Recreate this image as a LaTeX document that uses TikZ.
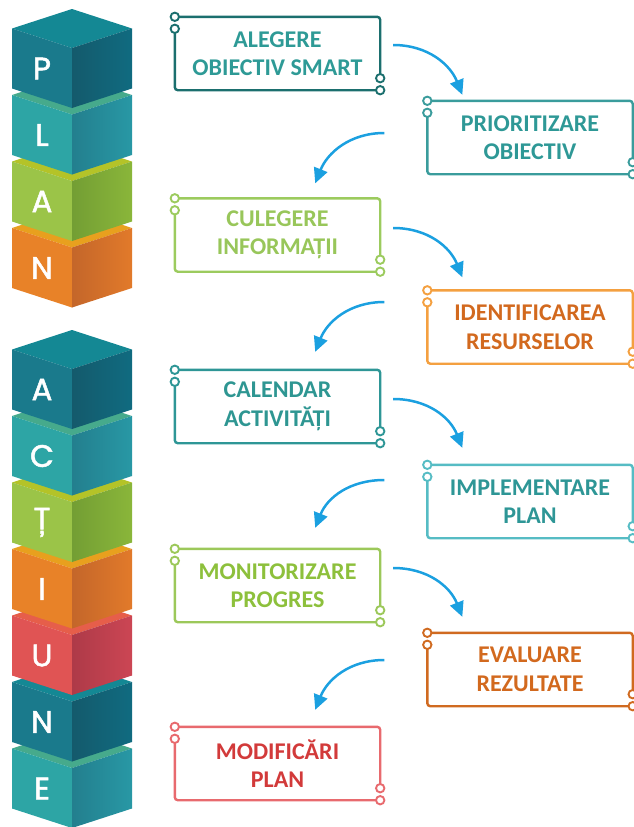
\documentclass[tikz,border=0pt]{standalone}
\usepackage{fontspec}
\setmainfont{Carlito}
\newfontfamily\cubefont{Poppins}[FakeBold=1.6]
\usetikzlibrary{arrows.meta}

% box colours (frame / text)
\definecolor{f1}{HTML}{1B6F6E}\definecolor{t1}{HTML}{2E9A96}
\definecolor{f2}{HTML}{3A9C9C}\definecolor{t2}{HTML}{2E9896}
\definecolor{f3}{HTML}{9CCB5E}\definecolor{t3}{HTML}{98C65A}
\definecolor{f4}{HTML}{F4A040}\definecolor{t4}{HTML}{D2691E}
\definecolor{f5}{HTML}{2E9696}\definecolor{t5}{HTML}{2E9692}
\definecolor{f6}{HTML}{56BCC4}\definecolor{t6}{HTML}{2E9696}
\definecolor{f7}{HTML}{9CC85A}\definecolor{t7}{HTML}{8DC03C}
\definecolor{f8}{HTML}{D06A20}\definecolor{t8}{HTML}{D2691E}
\definecolor{f9}{HTML}{E86A6E}\definecolor{t9}{HTML}{D23A3A}
\definecolor{arrowblue}{HTML}{1BA0E0}

% cube colours (left / right / shade / top)
\definecolor{dkL}{HTML}{1A7A8C}\definecolor{dkR}{HTML}{106B80}\definecolor{dkS}{HTML}{145A6C}\definecolor{dkT}{HTML}{148894}
\definecolor{tlL}{HTML}{2DA5A5}\definecolor{tlR}{HTML}{2898A5}\definecolor{tlS}{HTML}{237F8E}\definecolor{tlT}{HTML}{46AA8C}
\definecolor{grL}{HTML}{9BC448}\definecolor{grR}{HTML}{8AB63A}\definecolor{grS}{HTML}{739E34}\definecolor{grT}{HTML}{B4C328}
\definecolor{orL}{HTML}{E88228}\definecolor{orR}{HTML}{E27A2A}\definecolor{orS}{HTML}{C4662A}\definecolor{orT}{HTML}{E8A01E}
\definecolor{rdL}{HTML}{E05454}\definecolor{rdR}{HTML}{CC4654}\definecolor{rdS}{HTML}{AE3A48}\definecolor{rdT}{HTML}{E65E4A}

\tikzset{
  stepbox/.style={minimum width=205pt, minimum height=73pt, inner sep=0pt,
    align=center, font=\bfseries\fontsize{24}{28.5}\selectfont},
  letter/.style={text=white, inner sep=0pt, font=\cubefont\fontsize{31}{31}\selectfont},
  flow/.style={arrowblue, line width=2.5pt, -{Triangle[length=15pt,width=14pt]}}
}

% cube: front top vertex y, letter, tone, name
\newcommand{\cubeblock}[4]{%
  \fill[fill=#3T] (72,#1) -- (132,#1-19.5) -- (72,#1-39) -- (12,#1-19.5) -- cycle;
  \fill[fill=#3L] (12,#1-19.5) -- (72,#1) -- (72,#1+60) -- (12,#1+40.5) -- cycle;
  \shade[left color=#3S, right color=#3R] (72,#1) -- (132,#1-19.5) -- (132,#1+40.5) -- (72,#1+60) -- cycle;
  \node[letter] (#4) at (42,#1+20.5) {#2};
}

% open frame with ring ends
\newcommand{\stepframe}[2]{%
  \draw[#2, line width=2.4pt, rounded corners=3pt] (#1.north west) -- (#1.north east) -- ([yshift=12pt]#1.south east);
  \draw[#2, line width=2.4pt, rounded corners=3pt] ([yshift=-12pt]#1.north west) -- (#1.south west) -- (#1.south east);
  \draw[#2, line width=1.9pt, fill=white] (#1.north west) circle[radius=4.2pt]
    ([yshift=-12pt]#1.north west) circle[radius=4.2pt]
    ([yshift=12pt]#1.south east) circle[radius=4.2pt]
    (#1.south east) circle[radius=4.2pt];
}

\begin{document}
\begin{tikzpicture}[x=1pt, y=-1pt]
\useasboundingbox (0,0) rectangle (633,827);

%Cubes
\foreach \fy/\ltr/\tone [count=\i] in {247.5/N/or, 181/A/gr, 114.5/L/tl, 48/P/dk}
  {\cubeblock{\fy}{\ltr}{\tone}{P\i}}
\foreach \fy/\ltr/\tone [count=\i] in {768/E/tl, 701.5/N/dk, 635/U/rd, 568.5/I/or, 502/Ț/gr, 435.5/C/tl, 369/A/dk}
  {\cubeblock{\fy}{\ltr}{\tone}{A\i}}

%Nodes
\node[stepbox, text=t1] (S1) at (277.5,53.5)  {ALEGERE\\OBIECTIV SMART};
\node[stepbox, text=t2] (S2) at (530,137.5)   {PRIORITIZARE\\OBIECTIV};
\node[stepbox, text=t3] (S3) at (277.5,235)   {CULEGERE\\INFORMAȚII};
\node[stepbox, text=t4] (S4) at (530,327)     {IDENTIFICAREA\\RESURSELOR};
\node[stepbox, text=t5] (S5) at (277.5,406.5) {CALENDAR\\ACTIVITĂȚI};
\node[stepbox, text=t6] (S6) at (530,501.5)   {IMPLEMENTARE\\PLAN};
\node[stepbox, text=t7] (S7) at (277.5,585.5) {MONITORIZARE\\PROGRES};
\node[stepbox, text=t8] (S8) at (530,669.5)   {EVALUARE\\REZULTATE};
\node[stepbox, text=t9] (S9) at (277.5,763.5) {MODIFICĂRI\\PLAN};

%Frames
\foreach \i in {1,...,9}
  {\stepframe{S\i}{f\i}}

%Lines
\draw[flow] ([shift={(13,-8.5)}]S1.east) .. controls +(35,0) and +(-12,-30) .. ([shift={(35,-6)}]S2.north west);
\draw[flow] ([shift={(-43,-4.5)}]S2.west) .. controls +(-35,0) and +(12,-30) .. ([shift={(-65,-15)}]S3.north east);
\draw[flow] ([shift={(13,-7)}]S3.east) .. controls +(35,0) and +(-12,-30) .. ([shift={(35,-13)}]S4.north west);
\draw[flow] ([shift={(-43,-25)}]S4.west) .. controls +(-35,0) and +(12,-30) .. ([shift={(-65,-18)}]S5.north east);
\draw[flow] ([shift={(13,-7.5)}]S5.east) .. controls +(35,0) and +(-12,-30) .. ([shift={(35,-17)}]S6.north west);
\draw[flow] ([shift={(-43,-21.5)}]S6.west) .. controls +(-35,0) and +(12,-30) .. ([shift={(-65,-21)}]S7.north east);
\draw[flow] ([shift={(13,-17.5)}]S7.east) .. controls +(35,0) and +(-12,-30) .. ([shift={(35,-16)}]S8.north west);
\draw[flow] ([shift={(-43,-9.5)}]S8.west) .. controls +(-35,0) and +(12,-30) .. ([shift={(-65,-17)}]S9.north east);
\end{tikzpicture}
\end{document}
